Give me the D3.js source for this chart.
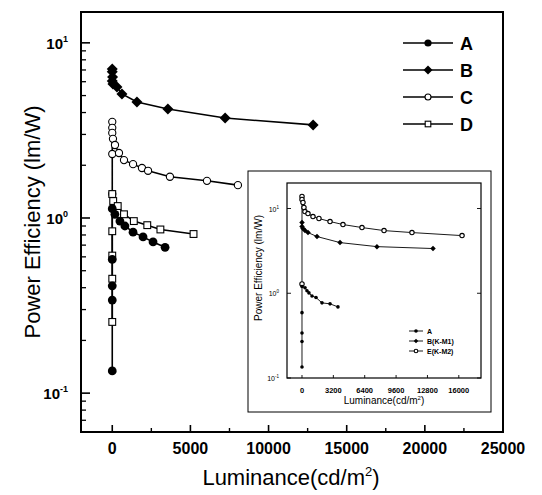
<!DOCTYPE html>
<html><head><meta charset="utf-8">
<script src="https://cdn.jsdelivr.net/npm/d3@7"></script>
<style>body{margin:0;background:#fff}svg{display:block}</style>
</head><body>
<svg id="chart" width="542" height="495"></svg>
<script>
// ---------- main chart data ----------
const seriesNames = ["A", "B", "C", "D"];
const aX = [0, 0, 0, 0, 0, 170, 490, 810, 1330, 1970, 2610, 3380];
const aY = [0.134, 0.34, 0.41, 0.58, 1.13, 1.05, 0.96, 0.90, 0.83, 0.78, 0.73, 0.68];
const bX = [0, 0, 0, 20, 45, 300, 620, 1580, 3560, 7220, 12850];
const bY = [6.06, 7.1, 6.83, 6.39, 5.83, 5.6, 5.11, 4.6, 4.19, 3.72, 3.4];
const cX = [0, 0, 0, 0, 0, 45, 175, 430, 750, 1330, 1900, 2290, 3690, 6060, 8040];
const cY = [1.37, 2.32, 3.54, 3.27, 3.06, 2.83, 2.61, 2.35, 2.14, 2.03, 1.93, 1.86, 1.72, 1.63, 1.54];
const dX = [0, 0, 0, 0, 0, 60, 350, 750, 1380, 2240, 3080, 5200];
const dY = [0.255, 0.45, 0.61, 0.84, 1.37, 1.25, 1.17, 1.05, 0.96, 0.91, 0.86, 0.81];
const xTicks = [0, 5000, 10000, 15000, 20000, 25000];
const yTickExps = [-1, 0, 1];

// ---------- inset data ----------
const insetNames = ["A", "B(K-M1)", "E(K-M2)"];
const iaX = [0, 0, 0, 0, 0, 310, 510, 710, 1020, 1430, 2040, 2860, 3670];
const iaY = [0.135, 0.27, 0.34, 0.59, 1.2, 1.16, 1.07, 1.01, 0.93, 0.89, 0.77, 0.75, 0.69];
const ibX = [0, 0, 100, 310, 610, 1530, 3880, 7650, 13370];
const ibY = [6.83, 6.12, 5.80, 5.49, 5.20, 4.67, 3.96, 3.55, 3.37];
const ieX = [0, 0, 0, 100, 200, 300, 610, 1120, 1730, 2860, 4180, 6120, 8370, 11220, 16330];
const ieY = [1.29, 13.87, 12.78, 11.78, 10.28, 9.21, 8.72, 8.04, 7.62, 7.02, 6.47, 5.96, 5.49, 5.20, 4.79];
const insetXTicks = [0, 3200, 6400, 9600, 12800, 16000];

const svg = d3.select("#chart");
svg.append("rect").attr("width", 542).attr("height", 495).attr("fill", "#fff");
const FONT = "Liberation Sans, Arial, Helvetica, sans-serif";

// ---------- main scales ----------
const L = 81, R = 503, T = 12, B = 432;
const x = d3.scaleLinear().domain([-2000, 25000]).range([L, R]);
const y = d3.scaleLog().domain([0.06, 15]).range([B, T]);

const zip = (xs, ys) => xs.map((v, i) => [v, ys[i]]);

// ---------- marker drawing ----------
function marker(g, type, cx, cy, s) {
  if (type === "fcircle") g.append("circle").attr("cx", cx).attr("cy", cy).attr("r", s).attr("fill", "#000");
  else if (type === "ocircle") g.append("circle").attr("cx", cx).attr("cy", cy).attr("r", s).attr("fill", "#fff").attr("stroke", "#000").attr("stroke-width", 1.1);
  else if (type === "diamond") g.append("path").attr("d", `M${cx},${cy - s * 1.25}L${cx + s * 1.25},${cy}L${cx},${cy + s * 1.25}L${cx - s * 1.25},${cy}Z`).attr("fill", "#000");
  else if (type === "square") g.append("rect").attr("x", cx - s).attr("y", cy - s).attr("width", 2 * s).attr("height", 2 * s).attr("fill", "#fff").attr("stroke", "#000").attr("stroke-width", 1.1);
}

// ---------- main series ----------
const mainSeries = [
  { name: "C", pts: zip(cX, cY), type: "ocircle", s: 3.6 },
  { name: "D", pts: zip(dX, dY), type: "square", s: 3.4 },
  { name: "A", pts: zip(aX, aY), type: "fcircle", s: 4.4 },
  { name: "B", pts: zip(bX, bY), type: "diamond", s: 4.4 }
];
const line = d3.line().x(d => x(d[0])).y(d => y(d[1]));
const gMain = svg.append("g");
mainSeries.forEach(sr => {
  gMain.append("path").attr("d", line(sr.pts)).attr("fill", "none").attr("stroke", "#000").attr("stroke-width", 1.6);
});
mainSeries.forEach(sr => {
  sr.pts.forEach(p => marker(gMain, sr.type, x(p[0]), y(p[1]), sr.s));
});

// ---------- main frame & axes ----------
svg.append("rect").attr("x", L).attr("y", T).attr("width", R - L).attr("height", B - T)
  .attr("fill", "none").attr("stroke", "#000").attr("stroke-width", 2);

const gx = svg.append("g");
xTicks.forEach(t => {
  gx.append("line").attr("x1", x(t)).attr("x2", x(t)).attr("y1", B).attr("y2", B - 7).attr("stroke", "#000").attr("stroke-width", 1.6);
  gx.append("text").attr("x", x(t)).attr("y", B + 22).attr("text-anchor", "middle")
    .attr("font-family", FONT).attr("font-weight", "bold").attr("font-size", 16).text(t);
});
d3.range(2500, 25000, 5000).forEach(t => {
  gx.append("line").attr("x1", x(t)).attr("x2", x(t)).attr("y1", B).attr("y2", B - 4).attr("stroke", "#000").attr("stroke-width", 1.4);
});

const gy = svg.append("g");
yTickExps.forEach(e => {
  const v = Math.pow(10, e);
  gy.append("line").attr("x1", L).attr("x2", L + 9).attr("y1", y(v)).attr("y2", y(v)).attr("stroke", "#000").attr("stroke-width", 1.6);
  const t = gy.append("text").attr("x", L - 13).attr("y", y(v) + 6).attr("text-anchor", "end")
    .attr("font-family", FONT).attr("font-weight", "bold").attr("font-size", 15);
  t.append("tspan").text("10");
  t.append("tspan").attr("dy", -7).attr("font-size", 9).text(e);
});
[-2, -1, 0].forEach(e => {
  for (let k = 2; k <= 9; k++) {
    const v = k * Math.pow(10, e);
    if (v < 0.06 || v > 15) continue;
    gy.append("line").attr("x1", L).attr("x2", L + 5).attr("y1", y(v)).attr("y2", y(v)).attr("stroke", "#000").attr("stroke-width", 1.3);
  }
});

// axis titles
const xt = svg.append("text").attr("x", 291).attr("y", 485).attr("text-anchor", "middle")
  .attr("font-family", FONT).attr("font-size", 22);
xt.append("tspan").text("Luminance(cd/m");
xt.append("tspan").attr("dy", -9).attr("font-size", 13).text("2");
xt.append("tspan").attr("dy", 9).text(")");
svg.append("text").attr("transform", "translate(40,222) rotate(-90)").attr("text-anchor", "middle")
  .attr("font-family", FONT).attr("font-size", 22).text("Power Efficiency (lm/W)");

// ---------- legend ----------
const legTypes = { A: "fcircle", B: "diamond", C: "ocircle", D: "square" };
const legSizes = { A: 3.6, B: 3.6, C: 3, D: 2.8 };
seriesNames.forEach((n, i) => {
  const ly = 43 + i * 27;
  const g = svg.append("g");
  g.append("line").attr("x1", 403).attr("x2", 453).attr("y1", ly).attr("y2", ly).attr("stroke", "#000").attr("stroke-width", 1.4);
  marker(g, legTypes[n], 428, ly, legSizes[n]);
  g.append("text").attr("x", 460).attr("y", ly + 6.5).attr("font-family", FONT).attr("font-weight", "bold").attr("font-size", 18).text(n);
});

// ---------- inset ----------
svg.append("rect").attr("x", 248).attr("y", 171).attr("width", 243).attr("height", 241)
  .attr("fill", "#fff").attr("stroke", "#000").attr("stroke-width", 1);
const iL = 287, iR = 481, iT = 183, iB = 378;
const ix = d3.scaleLinear().domain([-1530, 18265]).range([iL, iR]);
const iy = d3.scaleLog().domain([0.1, 20]).range([iB, iT]);
const iline = d3.line().x(d => ix(d[0])).y(d => iy(d[1]));
const insetSeries = [
  { pts: zip(ieX, ieY), type: "ocircle", s: 2.2 },
  { pts: zip(ibX, ibY), type: "diamond", s: 2.2 },
  { pts: zip(iaX, iaY), type: "fcircle", s: 1.8 }
];
const gIn = svg.append("g");
insetSeries.forEach(sr => {
  gIn.append("path").attr("d", iline(sr.pts)).attr("fill", "none").attr("stroke", "#000").attr("stroke-width", 0.9);
});
insetSeries.forEach(sr => sr.pts.forEach(p => marker(gIn, sr.type, ix(p[0]), iy(p[1]), sr.s)));
svg.append("rect").attr("x", iL).attr("y", iT).attr("width", iR - iL).attr("height", iB - iT)
  .attr("fill", "none").attr("stroke", "#000").attr("stroke-width", 1.2);
insetXTicks.forEach(t => {
  svg.append("line").attr("x1", ix(t)).attr("x2", ix(t)).attr("y1", iB).attr("y2", iB - 3).attr("stroke", "#000").attr("stroke-width", 0.9);
  svg.append("text").attr("x", ix(t)).attr("y", iB + 15).attr("text-anchor", "middle")
    .attr("font-family", FONT).attr("font-weight", "bold").attr("font-size", 7.5).text(t);
});
yTickExps.forEach(e => {
  const v = Math.pow(10, e);
  svg.append("line").attr("x1", iL).attr("x2", iL + 4).attr("y1", iy(v)).attr("y2", iy(v)).attr("stroke", "#000").attr("stroke-width", 0.9);
  svg.append("line").attr("x1", iR).attr("x2", iR - 4).attr("y1", iy(v)).attr("y2", iy(v)).attr("stroke", "#000").attr("stroke-width", 0.9);
  const t = svg.append("text").attr("x", iL - 8).attr("y", iy(v) + 3).attr("text-anchor", "end")
    .attr("font-family", FONT).attr("font-size", 7);
  t.append("tspan").text("10");
  t.append("tspan").attr("dy", -3).attr("font-size", 4.5).text(e);
});
const ixt = svg.append("text").attr("x", 384).attr("y", 404).attr("text-anchor", "middle")
  .attr("font-family", FONT).attr("font-size", 10);
ixt.append("tspan").text("Luminance(cd/m");
ixt.append("tspan").attr("dy", -4).attr("font-size", 6).text("2");
ixt.append("tspan").attr("dy", 4).text(")");
svg.append("text").attr("transform", "translate(262,268) rotate(-90)").attr("text-anchor", "middle")
  .attr("font-family", FONT).attr("font-size", 10).text("Power Efficiency (lm/W)");
const iTypes = ["fcircle", "diamond", "ocircle"];
insetNames.forEach((n, i) => {
  const ly = 331 + i * 10;
  svg.append("line").attr("x1", 409).attr("x2", 423).attr("y1", ly).attr("y2", ly).attr("stroke", "#000").attr("stroke-width", 0.9);
  marker(svg, iTypes[i], 416, ly, 1.8);
  svg.append("text").attr("x", 427).attr("y", ly + 2.5).attr("font-family", FONT).attr("font-weight", "bold").attr("font-size", 7).text(n);
});
</script>
</body></html>
